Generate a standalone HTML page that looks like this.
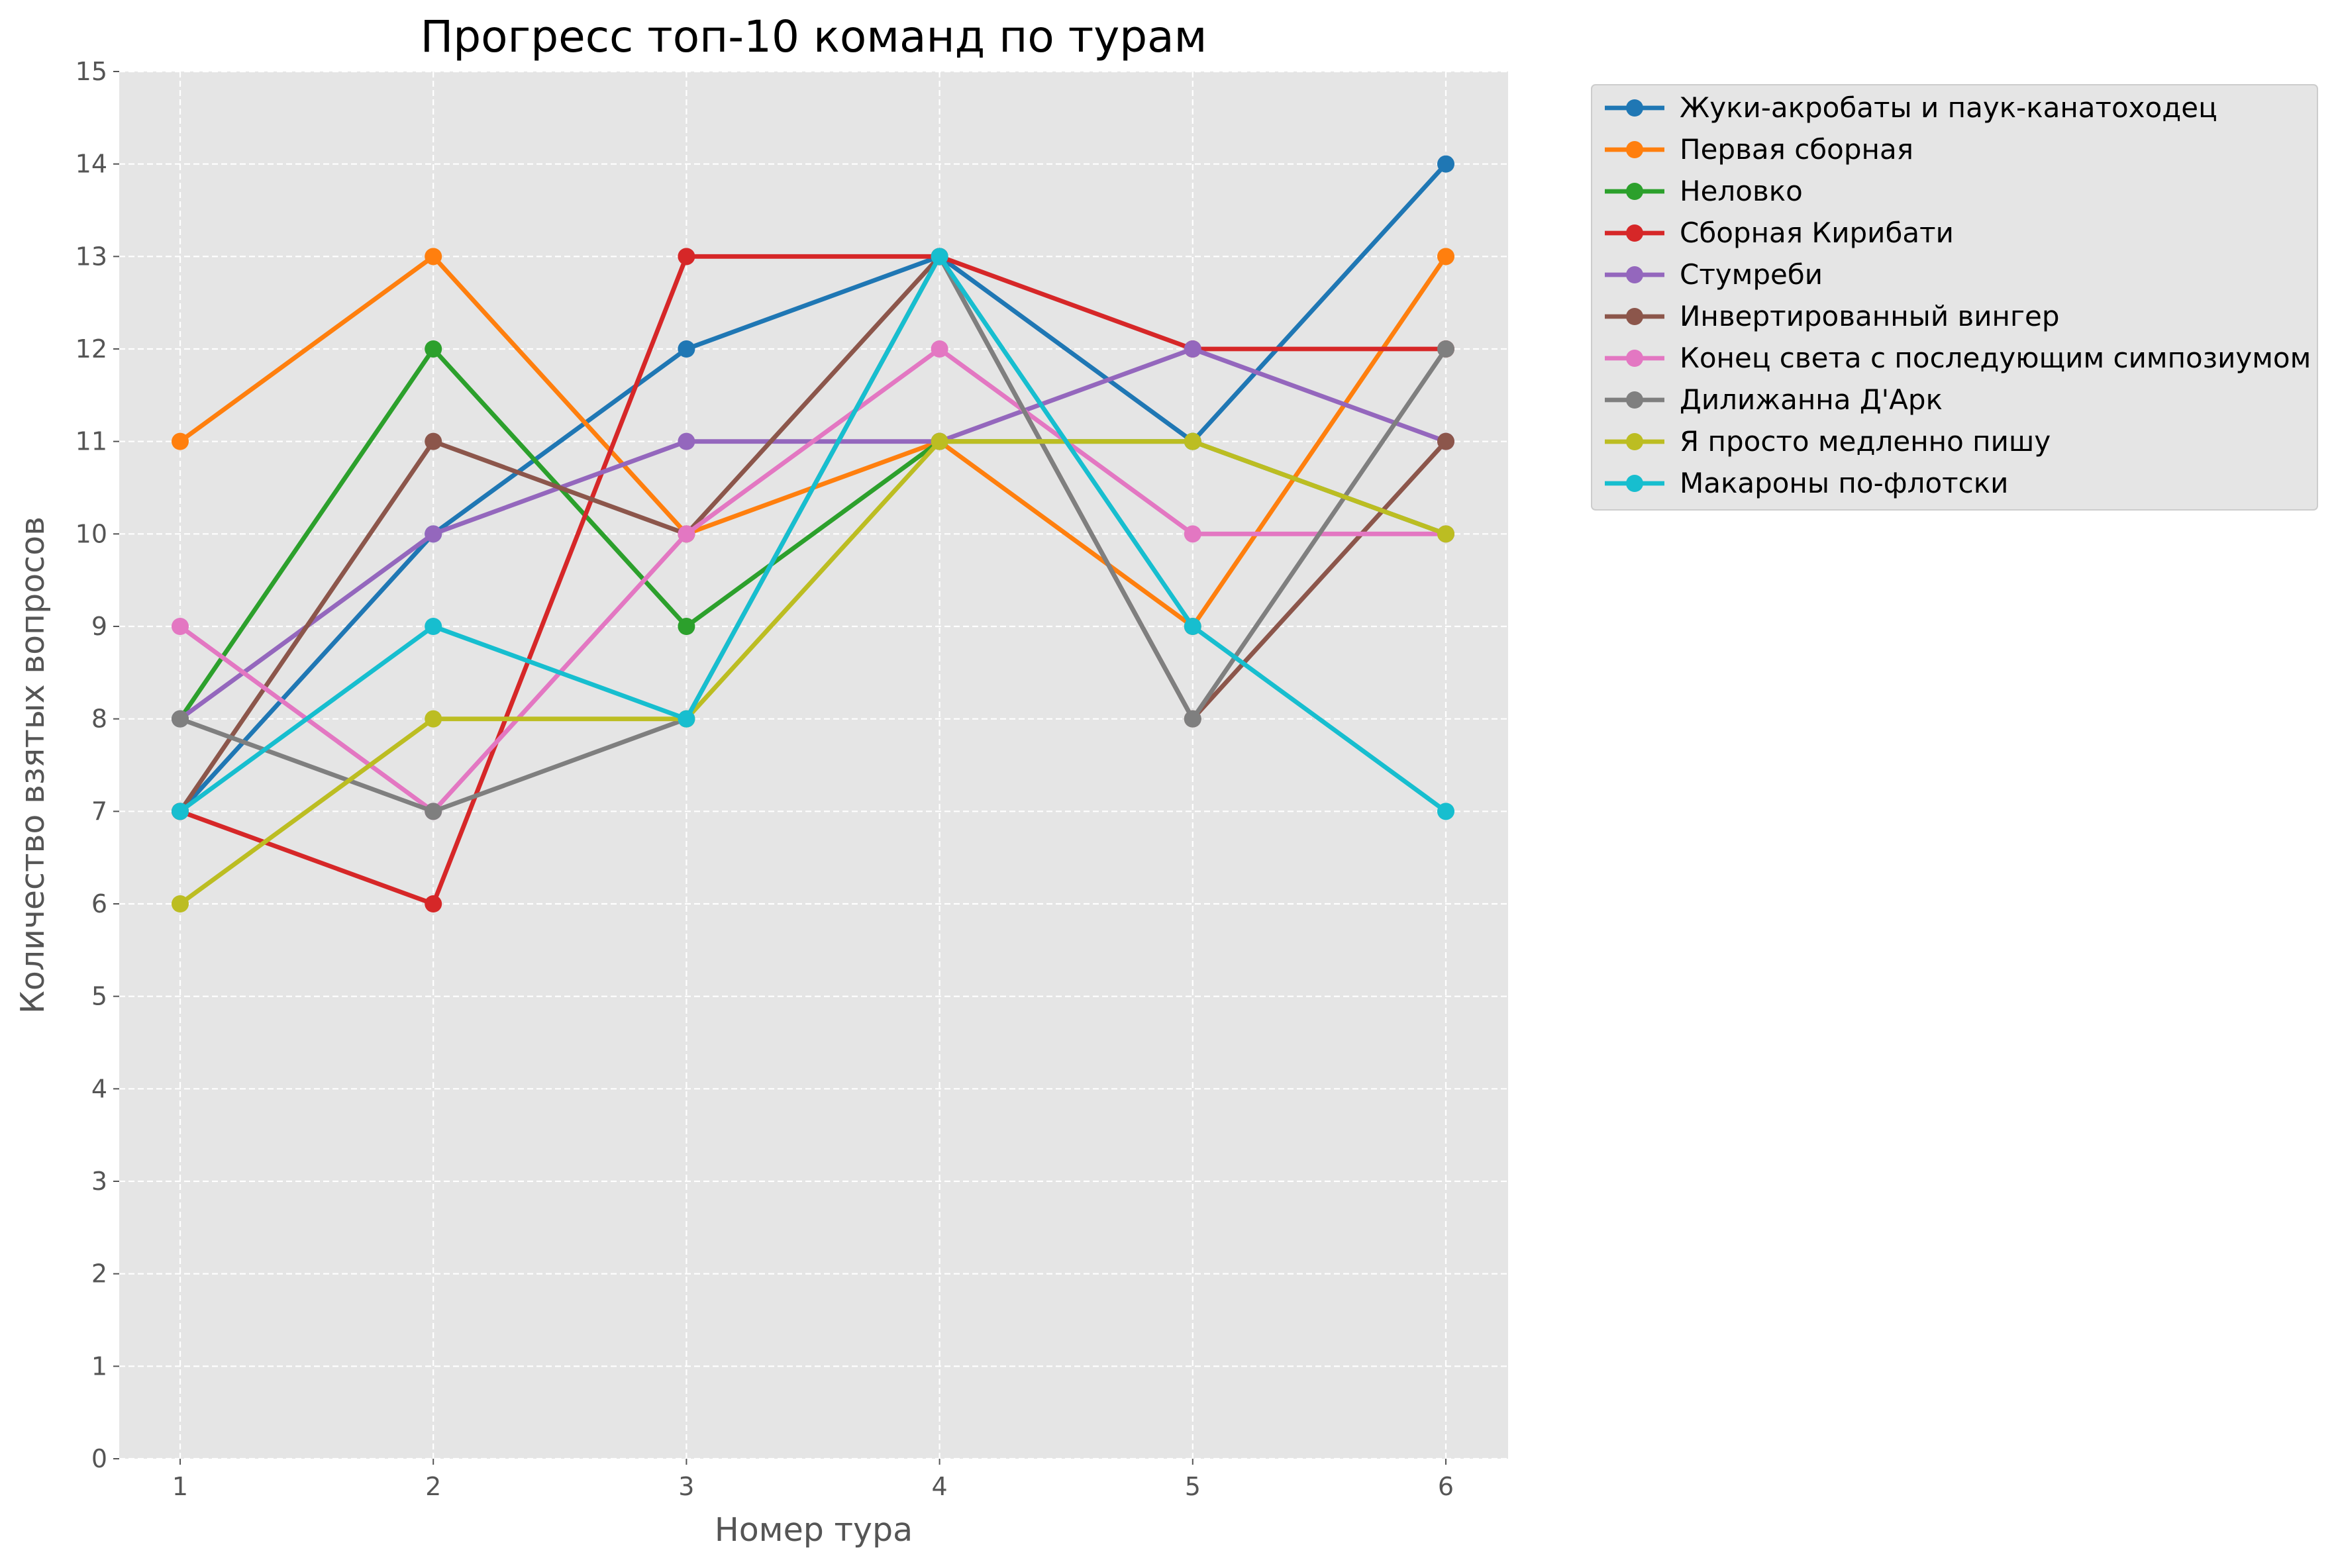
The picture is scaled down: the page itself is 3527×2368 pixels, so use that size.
<!DOCTYPE html>
<html><head><meta charset="utf-8"><style>
body{margin:0;background:#fff;}
svg{display:block;font-family:"DejaVu Sans","Liberation Sans",sans-serif;}
</style></head><body>
<svg id="chart" width="3527" height="2368" viewBox="0 0 3527 2368"></svg>
<script>
const rounds = [1,2,3,4,5,6];
const yTicks = [0,1,2,3,4,5,6,7,8,9,10,11,12,13,14,15];
const teamNames = ["Жуки-акробаты и паук-канатоходец","Первая сборная","Неловко","Сборная Кирибати","Стумреби","Инвертированный вингер","Конец света с последующим симпозиумом","Дилижанна Д'Арк","Я просто медленно пишу","Макароны по-флотски"];
const s0 = [7,10,12,13,11,14];
const s1 = [11,13,10,11,9,13];
const s2 = [8,12,9,11,11,10];
const s3 = [7,6,13,13,12,12];
const s4 = [8,10,11,11,12,11];
const s5 = [7,11,10,13,8,11];
const s6 = [9,7,10,12,10,10];
const s7 = [8,7,8,13,8,12];
const s8 = [6,8,8,11,11,10];
const s9 = [7,9,8,13,9,7];
const series = [s0,s1,s2,s3,s4,s5,s6,s7,s8,s9];
const colors = ["#1f77b4","#ff7f0e","#2ca02c","#d62728","#9467bd","#8c564b","#e377c2","#7f7f7f","#bcbd22","#17becf"];

const L=180,R=2277,T=108,B=2203;
const xS=v=>272+(v-1)*(2183-272)/5;
const yS=v=>B-(v-0)*(B-T)/15;
const NS="http://www.w3.org/2000/svg";
const svg=document.getElementById('chart');
function mk(tag,attrs,parent){const e=document.createElementNS(NS,tag);for(const k in attrs)e.setAttribute(k,attrs[k]);(parent||svg).appendChild(e);return e;}

const bg=mk('rect',{x:L,y:T,width:R-L,height:B-T,fill:'#e5e5e5'});



yTicks.forEach(t=>{
  const g=mk('line',{x1:L,x2:R,y1:yS(t),y2:yS(t),stroke:'#fff','stroke-width':2.2,'stroke-dasharray':'9,5'});
  
  
  const tk=mk('line',{x1:L-9,x2:L,y1:yS(t),y2:yS(t),stroke:'#555','stroke-width':2});
  
  
  const tx=mk('text',{x:L-18,y:yS(t)+13,'text-anchor':'end','font-size':38,fill:'#555'});
  tx.textContent=t;
  
  
});
rounds.forEach(r=>{
  const g=mk('line',{x1:xS(r),x2:xS(r),y1:T,y2:B,stroke:'#fff','stroke-width':2.2,'stroke-dasharray':'9,5'});
  
  
  const tk=mk('line',{x1:xS(r),x2:xS(r),y1:B,y2:B+9,stroke:'#555','stroke-width':2});
  
  
  const tx=mk('text',{x:xS(r),y:B+55,'text-anchor':'middle','font-size':38,fill:'#555'});
  tx.textContent=r;
  
  
});

series.forEach((s,i)=>{
  const g=mk('g',{});
  
  
  mk('polyline',{points:s.map((v,j)=>xS(rounds[j])+','+yS(v)).join(' '),fill:'none',stroke:colors[i],'stroke-width':6.8,'stroke-linejoin':'round'},g);
  s.forEach((v,j)=>{
    const c=mk('circle',{cx:xS(rounds[j]),cy:yS(v),r:13,fill:colors[i]},g);
    
    
  });
});

const title=mk('text',{x:(L+R)/2,y:78,'text-anchor':'middle','font-size':66,fill:'#000'});
title.textContent='Прогресс топ-10 команд по турам';


const xt=mk('text',{x:(L+R)/2,y:2327,'text-anchor':'middle','font-size':49,fill:'#555'});
xt.textContent='Номер тура';


const yt=mk('text',{x:0,y:0,'text-anchor':'middle','font-size':49,fill:'#555',transform:'translate(66,'+((T+B)/2)+') rotate(-90)'});
yt.textContent='Количество взятых вопросов';



const lg=mk('g',{});


mk('rect',{x:2403,y:128,width:1096,height:642,rx:6,fill:'#e5e5e5',stroke:'#ccc','stroke-width':2},lg);
teamNames.forEach((n,i)=>{
  const y=163+i*63;
  const e=mk('g',{},lg);
  
  
  mk('line',{x1:2423,x2:2513,y1:y,y2:y,stroke:colors[i],'stroke-width':6.8},e);
  mk('circle',{cx:2468,cy:y,r:13,fill:colors[i]},e);
  const t=mk('text',{x:2536,y:y+14,'font-size':42,fill:'#000'},e);
  t.textContent=n;
});
</script>
</body></html>
